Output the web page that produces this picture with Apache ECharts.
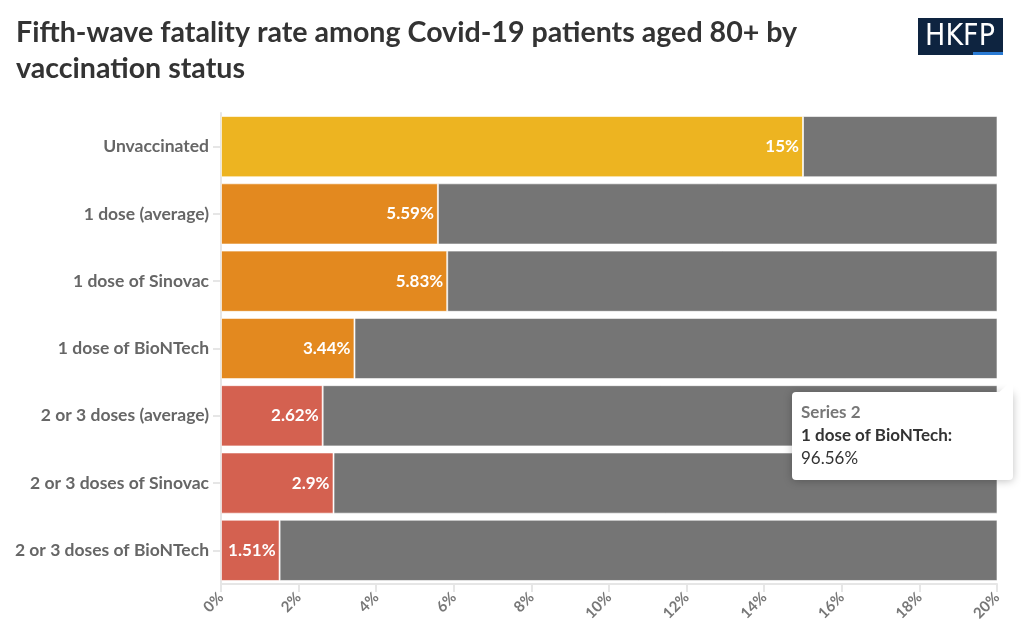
<!DOCTYPE html>
<html><head><meta charset="utf-8">
<script src="https://cdn.jsdelivr.net/npm/echarts@6/dist/echarts.min.js"></script>
<style>html,body{margin:0;padding:0;background:#fff}#c{width:1021px;height:638px}</style>
</head><body><div id="c"></div>
<script>
const categories = ["Unvaccinated","1 dose (average)","1 dose of Sinovac","1 dose of BioNTech","2 or 3 doses (average)","2 or 3 doses of Sinovac","2 or 3 doses of BioNTech"];
const fatality = [15, 5.59, 5.83, 3.44, 2.62, 2.9, 1.51];
const remainder = [85, 94.41, 94.17, 96.56, 97.38, 97.1, 98.49];
const barColors = ["#EDB421","#E3891F","#E3891F","#E3891F","#D46150","#D46150","#D46150"];
const xTicks = [0,2,4,6,8,10,12,14,16,18,20];

const FONT = '"Source Sans Pro", Lato, "Noto Sans", sans-serif';
const chart = echarts.init(document.getElementById('c'));
chart.setOption({
  animation:false,
  textStyle:{fontFamily:FONT},
  grid:{left:221,right:24,top:113,bottom:54},
  xAxis:{type:'value',min:xTicks[0],max:xTicks[xTicks.length-1],interval:2,
    axisLine:{show:true,lineStyle:{color:'#e6e6e6',width:2}},
    axisTick:{show:true,length:8,lineStyle:{color:'#e6e6e6',width:2}},
    splitLine:{show:false},
    axisLabel:{rotate:45,formatter:v=>v+'%',color:'#777',fontWeight:'bold',fontSize:15,margin:11,fontFamily:FONT}},
  yAxis:{type:'category',data:categories,inverse:true,
    axisLine:{show:true,lineStyle:{color:'#e6e6e6',width:2}},
    axisTick:{show:true,alignWithLabel:true,length:8,lineStyle:{color:'#e6e6e6',width:2}},
    axisLabel:{color:'#666',fontWeight:'bold',fontSize:17.5,margin:12,fontFamily:FONT}},
  series:[
    {name:'Series 1',type:'bar',stack:'a',barCategoryGap:'9%',
     data:fatality.map((v,i)=>({value:v,itemStyle:{color:barColors[i]}})),
     itemStyle:{borderColor:'rgba(255,255,255,0.6)',borderWidth:1},
     label:{show:true,position:'insideRight',formatter:p=>p.value+'%',color:'#fff',fontWeight:'bold',fontSize:17,distance:4,fontFamily:FONT}},
    {name:'Series 2',type:'bar',stack:'a',barCategoryGap:'9%',data:remainder,
     itemStyle:{color:'#757575',borderColor:'rgba(255,255,255,0.6)',borderWidth:1}}
  ],
  graphic:[
    {type:'text',left:16,top:15,style:{text:'Fifth-wave fatality rate among Covid-19 patients aged 80+ by\nvaccination status',fill:'#333',font:'bold 28.6px '+FONT,lineHeight:36}},
    {type:'group',left:918,top:18,children:[
      {type:'rect',shape:{x:0,y:0,width:85,height:37},style:{fill:'#0E2440'}},
      {type:'rect',shape:{x:55,y:34,width:30,height:3},style:{fill:'#2A7BD4'}},
      {type:'text',x:42,y:19,style:{text:'HKFP',fill:'#fff',font:'30px "Liberation Sans Narrow", "DejaVu Sans Condensed", sans-serif',align:'center',verticalAlign:'middle'}}
    ]},
    {type:'group',left:792,top:380,zlevel:2,children:[
      {type:'rect',z:100,shape:{x:0,y:12,width:221,height:88,r:4},style:{fill:'#fff',shadowBlur:8,shadowColor:'rgba(0,0,0,0.25)',shadowOffsetY:1}},
      {type:'polygon',z:101,shape:{points:[[205,14],[221,0],[221,20]]},style:{fill:'#fff'}},
      {type:'text',z:102,x:9,y:24,style:{text:'Series 2',fill:'#777',font:'bold 17px '+FONT}},
      {type:'text',z:102,x:9,y:47,style:{text:'1 dose of BioNTech:',fill:'#333',font:'bold 17px '+FONT}},
      {type:'text',z:102,x:9,y:70,style:{text:'96.56%',fill:'#333',font:'17px '+FONT}}
    ]}
  ]
});
</script></body></html>
